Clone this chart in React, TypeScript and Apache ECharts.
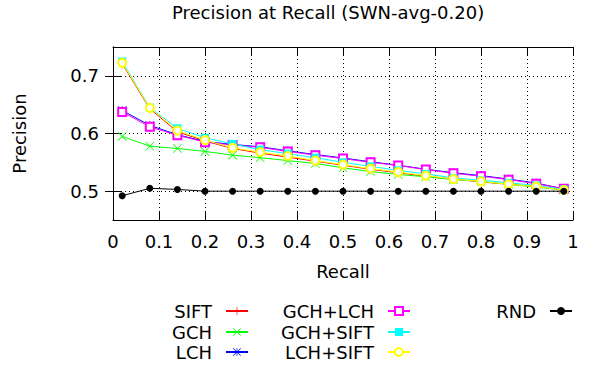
import { useEffect, useRef } from 'react';
import * as echarts from 'echarts';

const recall = [0.02, 0.08, 0.14, 0.2, 0.26, 0.32, 0.38, 0.44, 0.5, 0.56, 0.62, 0.68, 0.74, 0.8, 0.86, 0.92, 0.98];
const sift = [0.721, 0.643, 0.603, 0.587, 0.574, 0.566, 0.559, 0.552, 0.545, 0.538, 0.532, 0.526, 0.521, 0.516, 0.512, 0.508, 0.502];
const gch = [0.595, 0.578, 0.574, 0.569, 0.5625, 0.558, 0.553, 0.548, 0.5405, 0.534, 0.529, 0.525, 0.52, 0.517, 0.512, 0.507, 0.502];
const lch = [0.64, 0.614, 0.598, 0.586, 0.581, 0.577, 0.57, 0.5635, 0.5575, 0.551, 0.545, 0.538, 0.532, 0.527, 0.521, 0.514, 0.504];
const gchLch = [0.6375, 0.6115, 0.597, 0.585, 0.58, 0.576, 0.569, 0.5625, 0.5565, 0.55, 0.5445, 0.5375, 0.531, 0.526, 0.52, 0.513, 0.504];
const gchSift = [0.725, 0.645, 0.609, 0.5925, 0.582, 0.572, 0.565, 0.558, 0.55, 0.543, 0.536, 0.53, 0.523, 0.519, 0.5145, 0.51, 0.503];
const lchSift = [0.7225, 0.6445, 0.605, 0.5885, 0.575, 0.5676, 0.561, 0.553, 0.546, 0.539, 0.533, 0.527, 0.521, 0.517, 0.512, 0.508, 0.502];
const rnd = [0.492, 0.505, 0.503, 0.5, 0.5, 0.5, 0.5, 0.5, 0.5, 0.5, 0.5, 0.5, 0.5, 0.5, 0.5, 0.5, 0.5];

const seriesNames = ['SIFT', 'GCH', 'LCH', 'GCH+LCH', 'GCH+SIFT', 'LCH+SIFT', 'RND'];
const yTicks = [0.5, 0.6, 0.7];

const FONT = 'DejaVu Sans';
const PLUS = 'path://M4.6,0H5.4V10H4.6ZM0,4.6H10V5.4H0Z';
const CROSS = 'path://M0,0.6L0.6,0L10,9.4L9.4,10ZM9.4,0L10,0.6L0.6,10L0,9.4Z';
const STAR = 'path://M4.6,0H5.4V10H4.6ZM0,4.6H10V5.4H0ZM0,0.6L0.6,0L10,9.4L9.4,10ZM9.4,0L10,0.6L0.6,10L0,9.4Z';

export default function App() {
  const ref = useRef<HTMLDivElement>(null);
  useEffect(() => {
    if (!ref.current) return;
    const chart = echarts.init(ref.current, undefined, { renderer: 'svg' });
    const values = [sift, gch, lch, gchLch, gchSift, lchSift, rnd];
    const colors = ['#ff0000', '#00ff00', '#0000ff', '#ff00ff', '#00ffff', '#ffff00', '#000000'];
    const symbols = [PLUS, CROSS, STAR, 'emptyRect', 'rect', 'emptyCircle', 'circle'];
    const sizes = [9, 9, 9, 8, 8, 8, 7];
    const borders = [0, 0, 0, 1, 0, 1, 0];
    const series = seriesNames.map((name, k) => ({
      type: 'line',
      name,
      data: recall.map((x, i) => [x, values[k][i]]),
      symbol: symbols[k],
      symbolSize: sizes[k],
      showAllSymbol: true,
      color: colors[k],
      lineStyle: { width: 1, color: colors[k] },
      itemStyle: { color: colors[k], borderColor: colors[k], borderWidth: borders[k] },
      emphasis: { disabled: true },
      z: 2 + k,
    }));
    const legendPos = [
      { right: 341, row: 0 },
      { right: 341, row: 1 },
      { right: 341, row: 2 },
      { right: 179, row: 0 },
      { right: 179, row: 1 },
      { right: 179, row: 2 },
      { right: 17, row: 0 },
    ];
    const rowCenters = [312, 333, 353];
    const legends = seriesNames.map((name, k) => ({
      data: [name],
      right: legendPos[k].right,
      top: rowCenters[legendPos[k].row] - 10,
      align: 'right',
      orient: 'horizontal',
      padding: 0,
      itemWidth: 22,
      itemHeight: 10,
      selectedMode: false,
      textStyle: { fontFamily: FONT, fontSize: 18, color: '#000', padding: [0, 9, 0, 0] },
    }));
    const axisText = { fontFamily: FONT, fontSize: 18, color: '#000' };
    chart.setOption({
      animation: false,
      backgroundColor: '#fff',
      title: {
        text: 'Precision at Recall (SWN-avg-0.20)',
        left: 172,
        top: 3,
        padding: 0,
        textStyle: { ...axisText, fontWeight: 'normal' },
      },
      legend: legends,
      grid: { left: 113, right: 17, top: 47, bottom: 146, containLabel: false },
      xAxis: [
        {
          type: 'value',
          min: 0,
          max: 1,
          interval: 0.1,
          position: 'bottom',
          name: 'Recall',
          nameLocation: 'middle',
          nameGap: 42,
          nameTextStyle: axisText,
          axisLine: { show: true, lineStyle: { color: '#000', width: 1 } },
          axisTick: { show: true, inside: true, length: 8, lineStyle: { color: '#000' } },
          axisLabel: { ...axisText, margin: 12 },
          splitLine: { show: true, lineStyle: { type: [1, 3], color: '#000', width: 1 } },
        },
        {
          type: 'value',
          min: 0,
          max: 1,
          interval: 0.1,
          position: 'top',
          axisLine: { show: true, lineStyle: { color: '#000', width: 1 } },
          axisTick: { show: true, inside: true, length: 8, lineStyle: { color: '#000' } },
          axisLabel: { show: false },
          splitLine: { show: false },
        },
      ],
      yAxis: [
        {
          type: 'value',
          min: 0.45,
          max: 0.75,
          position: 'left',
          name: 'Precision',
          nameLocation: 'middle',
          nameGap: 85,
          nameRotate: 90,
          nameTextStyle: axisText,
          axisLine: { show: true, lineStyle: { color: '#000', width: 1 } },
          axisTick: { show: true, inside: true, length: 8, customValues: yTicks, lineStyle: { color: '#000' } },
          axisLabel: { ...axisText, margin: 14, customValues: yTicks, formatter: (v: number) => v.toFixed(1) },
          splitLine: { show: true, lineStyle: { type: [1, 3], color: '#000', width: 1 } },
        },
        {
          type: 'value',
          min: 0.45,
          max: 0.75,
          position: 'right',
          axisLine: { show: true, lineStyle: { color: '#000', width: 1 } },
          axisTick: { show: true, inside: true, length: 8, customValues: yTicks, lineStyle: { color: '#000' } },
          axisLabel: { show: false },
          splitLine: { show: false },
        },
      ],
      series,
    });
    return () => chart.dispose();
  }, []);
  return <div ref={ref} style={{ position: 'fixed', left: 0, top: 0, width: 590, height: 366 }} />;
}
